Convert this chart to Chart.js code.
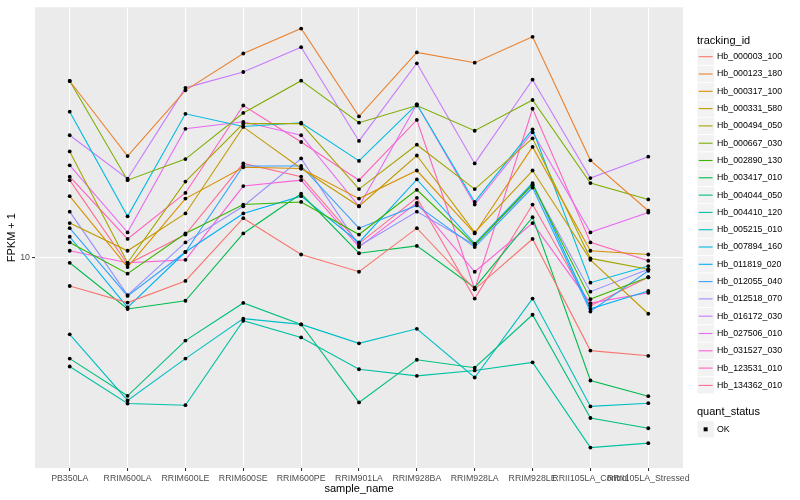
<!DOCTYPE html>
<html>
<head>
<meta charset="utf-8">
<script src="https://cdn.jsdelivr.net/npm/chart.js@4.4.0/dist/chart.umd.min.js"></script>
<style>
html,body{margin:0;padding:0;background:#ffffff;}
</style>
</head>
<body>
<canvas id="fpkmChart" width="800" height="500"></canvas>
<script>
// samples on the x axis
const sampleNames = ["PB350LA","RRIM600LA","RRIM600LE","RRIM600SE","RRIM600PE","RRIM901LA",
  "RRIM928BA","RRIM928LA","RRIM928LE","RRII105LA_Control","RRII105LA_Stressed"];

const trackingIds = ["Hb_000003_100","Hb_000123_180","Hb_000317_100","Hb_000331_580","Hb_000494_050",
  "Hb_000667_030","Hb_002890_130","Hb_003417_010","Hb_004044_050","Hb_004410_120","Hb_005215_010",
  "Hb_007894_160","Hb_011819_020","Hb_012055_040","Hb_012518_070","Hb_016172_030","Hb_027506_010",
  "Hb_031527_030","Hb_123531_010","Hb_134362_010"];

const lineColors = ["#F8766D","#EA8331","#D89000","#C09B00","#A3A500","#7CAE00","#39B600","#00BB4E",
  "#00BF7D","#00C1A3","#00BFC4","#00BAE0","#00B0F6","#35A2FF","#9590FF","#C77CFF","#E76BF3",
  "#FA62DB","#FF62BC","#FF6C91"];

// FPKM + 1, one value per sample
const hb_000003_100 = [8.0, 7.04, 8.32, 13.5, 10.2, 8.93, 12.5, 7.80, 11.5, 4.86, 4.67];
const hb_000123_180 = [38.9, 21.8, 36.2, 48.1, 58.3, 29.6, 48.5, 44.8, 54.7, 21.1, 14.3];
const hb_000317_100 = [16.0, 9.26, 15.7, 20.0, 19.8, 15.7, 19.5, 12.0, 23.4, 10.5, 10.2];
const hb_000331_580 = [13.0, 10.5, 14.0, 27.3, 19.8, 14.8, 21.9, 12.1, 19.5, 9.79, 6.46];
const hb_000494_050 = [22.6, 9.57, 17.9, 28.0, 28.0, 16.9, 23.8, 16.9, 25.0, 9.90, 9.10];
const hb_000667_030 = [38.9, 18.1, 21.3, 30.4, 39.0, 28.2, 32.2, 26.5, 33.6, 17.7, 15.6];
const hb_002890_130 = [11.2, 8.80, 12.0, 15.0, 15.3, 11.9, 16.8, 11.0, 17.5, 7.23, 8.56];
const hb_003417_010 = [9.57, 6.70, 7.14, 12.0, 16.3, 10.3, 10.9, 7.90, 13.6, 3.86, 3.42];
const hb_004044_050 = [4.57, 3.43, 5.25, 7.02, 5.95, 3.26, 4.53, 4.26, 6.41, 2.89, 2.67];
const hb_004410_120 = [4.30, 3.23, 3.19, 6.12, 5.38, 4.21, 4.00, 4.17, 4.44, 2.30, 2.38];
const hb_005215_010 = [5.51, 3.31, 4.57, 6.22, 5.95, 5.14, 5.75, 3.95, 7.26, 3.16, 3.24];
const hb_007894_160 = [30.7, 13.7, 30.2, 27.4, 28.2, 21.0, 32.5, 15.3, 26.8, 8.21, 9.33];
const hb_011819_020 = [11.7, 6.78, 10.4, 14.0, 16.0, 11.2, 18.2, 11.1, 17.7, 6.71, 7.70];
const hb_012055_040 = [12.5, 7.41, 10.4, 20.2, 20.2, 12.5, 14.9, 10.8, 17.1, 6.57, 9.00];
const hb_012518_070 = [14.2, 7.46, 11.2, 14.8, 21.4, 10.9, 14.2, 11.0, 17.4, 7.66, 9.10];
const hb_016172_030 = [25.6, 18.3, 36.9, 41.7, 50.5, 24.5, 44.6, 20.6, 39.3, 18.4, 21.7];
const hb_027506_010 = [20.3, 12.1, 26.9, 28.4, 25.6, 14.8, 32.5, 15.0, 26.2, 12.1, 14.1];
const hb_031527_030 = [10.5, 9.57, 9.79, 17.3, 18.1, 10.8, 15.2, 8.93, 13.0, 7.01, 7.59];
const hb_123531_010 = [18.6, 11.5, 16.4, 32.2, 24.3, 18.1, 28.8, 7.80, 31.4, 11.2, 9.72];
const hb_134362_010 = [18.1, 9.46, 11.9, 20.6, 18.6, 11.1, 15.8, 7.26, 15.0, 6.87, 8.56];

const seriesValues = [hb_000003_100, hb_000123_180, hb_000317_100, hb_000331_580, hb_000494_050,
  hb_000667_030, hb_002890_130, hb_003417_010, hb_004044_050, hb_004410_120, hb_005215_010,
  hb_007894_160, hb_011819_020, hb_012055_040, hb_012518_070, hb_016172_030, hb_027506_010,
  hb_031527_030, hb_123531_010, hb_134362_010];

const yTicks = [10];

const FONT = "'Liberation Sans', Arial, Helvetica, sans-serif";

const datasets = seriesValues.map((vals, k) => ({
  label: trackingIds[k],
  data: vals.map((v, i) => ({x: i, y: v})),
  borderColor: lineColors[k],
  backgroundColor: lineColors[k],
  borderWidth: 1.1,
  pointRadius: 0,
  fill: false,
  tension: 0
}));

// grey panel like ggplot
const panelBg = {
  id: "panelBg",
  beforeDraw(chart) {
    const {ctx, chartArea: a} = chart;
    ctx.save();
    ctx.fillStyle = "#EBEBEB";
    ctx.fillRect(a.left, a.top, a.right - a.left, a.bottom - a.top);
    ctx.restore();
  }
};

// black dots on top of all lines
const dots = {
  id: "dots",
  afterDatasetsDraw(chart) {
    const ctx = chart.ctx;
    ctx.save();
    ctx.fillStyle = "#000000";
    chart.data.datasets.forEach((d, k) => {
      chart.getDatasetMeta(k).data.forEach(p => {
        ctx.beginPath();
        ctx.arc(p.x, p.y, 1.9, 0, Math.PI * 2);
        ctx.fill();
      });
    });
    ctx.restore();
  }
};

// axis titles + ggplot style legend
const extras = {
  id: "extras",
  afterDraw(chart) {
    const ctx = chart.ctx;
    const a = chart.chartArea;
    ctx.save();
    ctx.fillStyle = "#000000";
    ctx.font = "11px " + FONT;
    ctx.textAlign = "center";
    ctx.textBaseline = "middle";
    ctx.fillText("sample_name", (a.left + a.right) / 2, 488.5);
    ctx.save();
    ctx.translate(12, (a.top + a.bottom) / 2);
    ctx.rotate(-Math.PI / 2);
    ctx.fillText("FPKM + 1", 0, 0);
    ctx.restore();

    const lx = 697, kw = 17.3, step = 17.3;
    ctx.textAlign = "left";
    ctx.fillText("tracking_id", lx, 40.5);
    ctx.font = "8.8px " + FONT;
    trackingIds.forEach((id, k) => {
      const cy = 56.7 + k * step;
      ctx.fillStyle = "#F2F2F2";
      ctx.fillRect(lx + 0.5, cy - step / 2 + 0.5, kw - 1, step - 1);
      ctx.strokeStyle = lineColors[k];
      ctx.lineWidth = 1.1;
      ctx.beginPath();
      ctx.moveTo(lx + 1.7, cy);
      ctx.lineTo(lx + kw - 1.7, cy);
      ctx.stroke();
      ctx.fillStyle = "#000000";
      ctx.fillText(id, lx + 20, cy);
    });

    ctx.font = "11px " + FONT;
    ctx.fillText("quant_status", lx, 412.3);
    const oy = 429.3;
    ctx.fillStyle = "#F2F2F2";
    ctx.fillRect(lx + 0.5, oy - step / 2 + 0.5, kw - 1, step - 1);
    ctx.fillStyle = "#000000";
    ctx.fillRect(lx + kw / 2 - 2, oy - 2, 4, 4);
    ctx.font = "8.8px " + FONT;
    ctx.fillText("OK", lx + 20, oy);
    ctx.restore();
  }
};

new Chart("fpkmChart", {
  type: "line",
  data: {datasets: datasets},
  plugins: [panelBg, dots, extras],
  options: {
    responsive: false,
    animation: false,
    devicePixelRatio: 1,
    layout: {padding: {left: 0, top: 5, right: 117, bottom: 0}},
    plugins: {legend: {display: false}, tooltip: {enabled: false}},
    scales: {
      x: {
        type: "linear",
        min: -0.6,
        max: 10.6,
        afterBuildTicks: s => { s.ticks = sampleNames.map((n, i) => ({value: i})); },
        afterFit: s => { s.height = 32; },
        ticks: {
          autoSkip: false, maxRotation: 0, minRotation: 0, padding: 2,
          color: "#4D4D4D", font: {family: FONT, size: 8.8},
          callback: v => sampleNames[v]
        },
        grid: {color: "#FFFFFF", lineWidth: 1.07, tickLength: 3, tickColor: "#333333"},
        border: {display: false}
      },
      y: {
        type: "logarithmic",
        min: 1.965,
        max: 68.7,
        afterBuildTicks: s => { s.ticks = yTicks.map(v => ({value: v})); },
        afterFit: s => { s.width = 35; },
        ticks: {
          padding: 2, color: "#4D4D4D", font: {family: FONT, size: 8.8},
          callback: v => String(v)
        },
        grid: {color: "#FFFFFF", lineWidth: 1.07, tickLength: 3, tickColor: "#333333"},
        border: {display: false}
      }
    }
  }
});
</script>
</body>
</html>
